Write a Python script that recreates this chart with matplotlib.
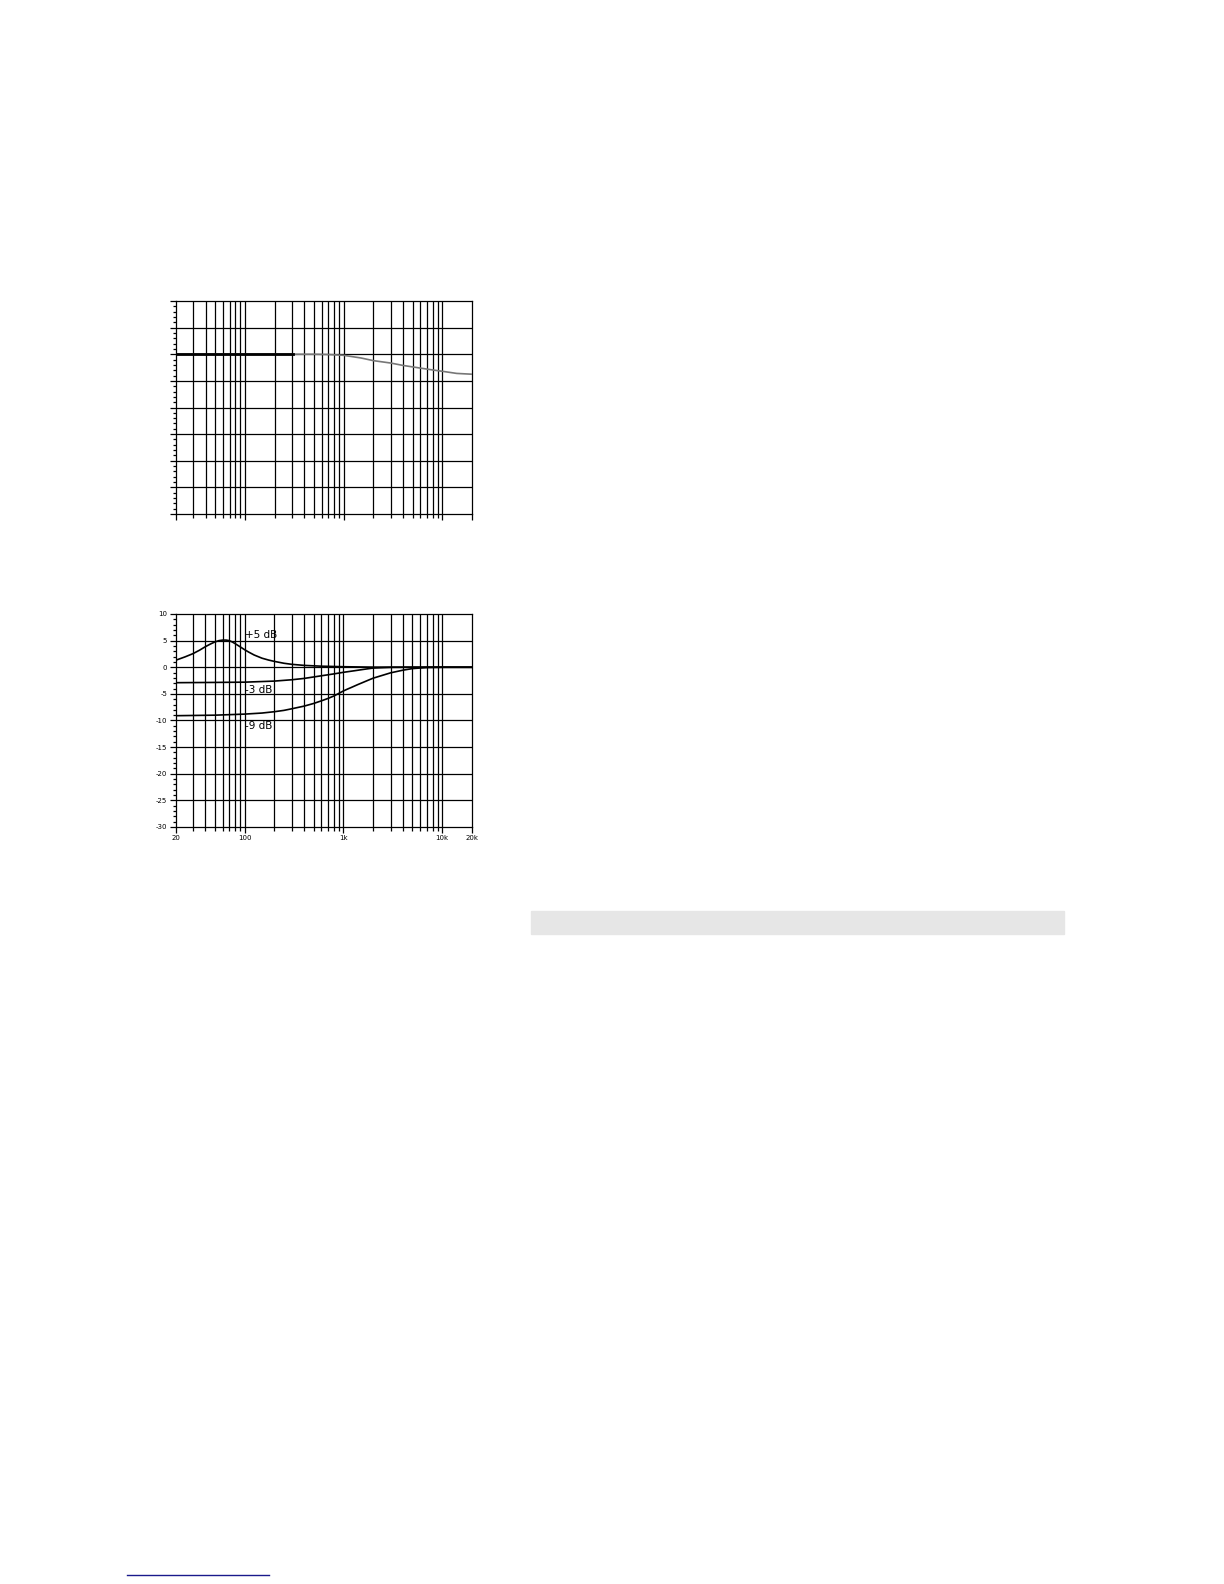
import numpy as np
import matplotlib.pyplot as plt
from matplotlib.ticker import FixedLocator, NullFormatter
from matplotlib.patches import Rectangle
from matplotlib.lines import Line2D

# top chart: flat response, gentle HF roll-off
top_freq = [20, 100, 300, 500, 700, 1000, 1500, 2000, 3000, 4000, 6000, 8000, 10000, 14000, 20000]
top_db = [0, 0, 0, 0, -0.05, -0.2, -0.7, -1.2, -1.65, -2.1, -2.6, -2.95, -3.2, -3.6, -3.75]
top_flat_freq = [20, 310]
top_flat_db = [0, 0]

# bottom chart: low shelf / bell settings
boost_freq = [20, 25, 30, 35, 40, 45, 50, 55, 60, 65, 70, 75, 80, 90, 100, 110, 125, 150, 175, 200, 250, 300, 400, 600, 1000, 2000, 20000]
boost_db = [1.3, 1.95, 2.55, 3.2, 3.85, 4.35, 4.75, 5.0, 5.1, 5.1, 5.0, 4.75, 4.45, 3.85, 3.3, 2.85, 2.3, 1.7, 1.35, 1.1, 0.75, 0.55, 0.35, 0.2, 0.1, 0.02, 0]
cut3_freq = [20, 50, 100, 200, 300, 400, 600, 800, 1000, 1300, 1600, 2000, 3000, 5000, 20000]
cut3_db = [-2.9, -2.85, -2.8, -2.6, -2.35, -2.1, -1.6, -1.25, -0.95, -0.65, -0.4, -0.15, -0.03, 0, 0]
cut9_freq = [20, 50, 100, 150, 200, 250, 300, 400, 500, 600, 700, 800, 900, 1000, 1100, 1200, 1400, 1600, 1800, 2000, 2500, 3000, 4000, 5000, 7000, 10000, 20000]
cut9_db = [-9.1, -9.0, -8.8, -8.6, -8.35, -8.1, -7.8, -7.3, -6.8, -6.3, -5.85, -5.4, -4.9, -4.45, -4.1, -3.8, -3.25, -2.8, -2.4, -2.05, -1.5, -1.05, -0.55, -0.25, -0.05, 0, 0]

curve_labels = ['+5 dB', '-3 dB', '-9 dB']
label_db = [6.0, -4.2, -11.1]

y_ticks = [10, 5, 0, -5, -10, -15, -20, -25, -30]
x_ticks = [20, 100, 1000, 10000, 20000]
x_ticklabels = ['20', '100', '1k', '10k', '20k']

W, H = 1224, 1584
fig = plt.figure(figsize=(W / 100, H / 100), dpi=100)


def setup(ax, labels):
    ax.set_xscale('log')
    ax.set_xlim(20, 20000)
    ax.set_ylim(-30, 10)
    grid_x = [m * 10 ** e for e in range(1, 5) for m in range(1, 10)]
    grid_x = [g for g in grid_x if 20 < g < 20000]
    for g in grid_x:
        ax.axvline(g, color='black', lw=0.9, zorder=1)
    for v in y_ticks[1:-1]:
        ax.axhline(v, color='black', lw=0.9, zorder=1)
    for s in ax.spines.values():
        s.set_linewidth(0.9)
    ax.xaxis.set_major_locator(FixedLocator(x_ticks))
    ax.xaxis.set_minor_locator(FixedLocator(grid_x))
    ax.xaxis.set_minor_formatter(NullFormatter())
    ax.yaxis.set_major_locator(FixedLocator(y_ticks))
    ax.yaxis.set_minor_locator(FixedLocator(list(range(-30, 11))))
    ax.tick_params(which='both', direction='out', width=0.9, top=False, right=False)
    ax.tick_params(which='major', length=4, labelsize=5, pad=2)
    ax.tick_params(which='minor', axis='y', length=2.5)
    ax.tick_params(which='minor', axis='x', length=3)
    if labels:
        ax.set_xticklabels(x_ticklabels)
        ax.set_yticklabels([str(v) for v in y_ticks])
    else:
        ax.set_xticklabels([])
        ax.set_yticklabels([])


ax1 = fig.add_axes([176 / W, 1 - 514 / H, 296 / W, 213 / H])
setup(ax1, False)
ax1.plot(top_freq, top_db, color='#777777', lw=1.2, zorder=3)
ax1.plot(top_flat_freq, top_flat_db, color='black', lw=2.0, zorder=4)

ax2 = fig.add_axes([175.5 / W, 1 - 827 / H, 296.5 / W, 213 / H])
setup(ax2, True)
for fr, db in [(boost_freq, boost_db), (cut3_freq, cut3_db), (cut9_freq, cut9_db)]:
    ax2.plot(fr, db, color='black', lw=1.2, zorder=3)
for lab, y in zip(curve_labels, label_db):
    ax2.text(102, y, lab, fontsize=7.5, ha='left', va='center', zorder=5)

# grey band and link underline on the page
fig.patches.append(Rectangle((531 / W, 1 - 934 / H), (1064 - 531) / W, 23 / H,
                             transform=fig.transFigure, color='#e6e6e6'))
fig.add_artist(Line2D([127 / W, 269 / W], [1 - 1575 / H, 1 - 1575 / H],
                      color='#1a1a8c', lw=1.0))

plt.savefig('out.png', dpi=100)
